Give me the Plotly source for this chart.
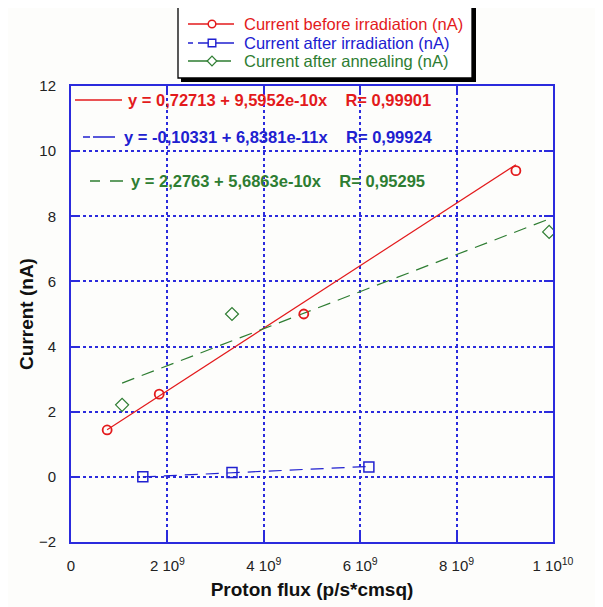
import numpy as np
import plotly.graph_objects as go

# ---- data ----
before_x = [0.75e9, 1.83e9, 4.83e9, 9.23e9]
before_y = [1.44, 2.54, 5.0, 9.40]
after_x = [1.49e9, 3.34e9, 6.18e9]
after_y = [0.0, 0.13, 0.30]
anneal_x = [1.06e9, 3.34e9, 9.92e9]
anneal_y = [2.21, 5.0, 7.52]

# fit coefficients printed on the chart: intercept, slope
fit_before = (0.72713, 9.5952e-10)
fit_after = (-0.10331, 6.8381e-11)
fit_anneal = (2.2763, 5.6863e-10)

eq_before = "y = 0,72713 + 9,5952e-10x    R= 0,99901"
eq_after = "y = -0,10331 + 6,8381e-11x    R= 0,99924"
eq_anneal = "y = 2,2763 + 5,6863e-10x    R= 0,95295"

names = ["Current before irradiation (nA)", "Current after irradiation (nA)",
         "Current after annealing (nA)"]

x_tickvals = [0, 2e9, 4e9, 6e9, 8e9, 1e10]
x_ticktext = ["0", "2 10<sup>9</sup>", "4 10<sup>9</sup>", "6 10<sup>9</sup>",
              "8 10<sup>9</sup>", "1 10<sup>10</sup>"]
y_tickvals = [-2, 0, 2, 4, 6, 8, 10, 12]

RED = "#e31a1c"
BLUE = "#2020d0"
GREEN = "#2e7d32"
AXIS = "#2b2bdd"
FONT = "Liberation Sans, Arial"

# figure pixel geometry (page body has an 8px margin)
OFF = 8
W, H = 595, 599
L, T = 63, 78
pw, ph = 482, 456
R, B = W - L - pw, H - T - ph


def px(sx):
    return (sx - OFF - L) / pw


def py(sy):
    return (H - B - (sy - OFF)) / ph


fig = go.Figure()


def fit_line(xs, coef):
    xx = np.array([min(xs), max(xs)])
    return xx, coef[0] + coef[1] * xx


# fit lines
xx, yy = fit_line(before_x, fit_before)
fig.add_trace(go.Scatter(x=xx, y=yy, mode="lines", line=dict(color=RED, width=1.2),
                         name=names[0] + " fit", showlegend=False, hoverinfo="skip"))
xx, yy = fit_line(after_x, fit_after)
fig.add_trace(go.Scatter(x=xx, y=yy, mode="lines",
                         line=dict(color=BLUE, width=1.2, dash="13px,8px"),
                         name=names[1] + " fit", showlegend=False, hoverinfo="skip"))
xx, yy = fit_line(anneal_x, fit_anneal)
fig.add_trace(go.Scatter(x=xx, y=yy, mode="lines",
                         line=dict(color=GREEN, width=1.2, dash="13px,8px"),
                         name=names[2] + " fit", showlegend=False, hoverinfo="skip"))

# data points
fig.add_trace(go.Scatter(x=before_x, y=before_y, mode="markers", name=names[0],
                         marker=dict(symbol="circle-open", size=9, color=RED,
                                     line=dict(width=1.8, color=RED)),
                         showlegend=False))
fig.add_trace(go.Scatter(x=after_x, y=after_y, mode="markers", name=names[1],
                         marker=dict(symbol="square-open", size=10, color=BLUE,
                                     line=dict(width=1.5, color=BLUE)),
                         showlegend=False))
fig.add_trace(go.Scatter(x=anneal_x, y=anneal_y, mode="markers", name=names[2],
                         marker=dict(symbol="diamond-open", size=10, color=GREEN,
                                     line=dict(width=1.2, color=GREEN)),
                         showlegend=False))

shapes = []
annotations = []

# ---- legend box drawn by hand (shadow, frame, samples, texts) ----
shapes.append(dict(type="rect", xref="paper", yref="paper",
                   x0=px(181), x1=px(476), y0=py(82), y1=py(7),
                   fillcolor="black", line=dict(width=0)))
shapes.append(dict(type="rect", xref="paper", yref="paper",
                   x0=px(178), x1=px(472), y0=py(78), y1=py(4),
                   fillcolor="white", line=dict(color="black", width=1.3)))
leg_rows = [(names[0], RED, 24, "solid", "circle"),
            (names[1], BLUE, 43, "5px,5px,40px", "square"),
            (names[2], GREEN, 61, "22px,7px,14px", "diamond")]
for nm, c, ly, d, sym in leg_rows:
    shapes.append(dict(type="line", xref="paper", yref="paper",
                       x0=px(188), x1=px(234), y0=py(ly), y1=py(ly),
                       line=dict(color=c, width=1.3, dash=d)))
    mx, r = 212, 3.8
    if sym == "circle":
        shapes.append(dict(type="circle", xref="paper", yref="paper",
                           x0=px(mx - r), x1=px(mx + r), y0=py(ly + r), y1=py(ly - r),
                           fillcolor="white", line=dict(color=c, width=1.5)))
    elif sym == "square":
        shapes.append(dict(type="rect", xref="paper", yref="paper",
                           x0=px(mx - r), x1=px(mx + r), y0=py(ly + r), y1=py(ly - r),
                           fillcolor="white", line=dict(color=c, width=1.4)))
    else:
        r = 4.8
        path = (f"M {px(mx - r)},{py(ly)} L {px(mx)},{py(ly - r)} "
                f"L {px(mx + r)},{py(ly)} L {px(mx)},{py(ly + r)} Z")
        shapes.append(dict(type="path", xref="paper", yref="paper", path=path,
                           fillcolor="white", line=dict(color=c, width=1.2)))
    annotations.append(dict(x=px(243), y=py(ly), xref="paper", yref="paper",
                            text=nm, showarrow=False, xanchor="left", yanchor="middle",
                            borderpad=0, font=dict(family=FONT, size=16.5, color=c)))

# ---- equation annotations and their line samples ----
eqs = [(eq_before, RED, 127, 100, 75, 122, "solid"),
       (eq_after, BLUE, 123, 137, 83, 115, "7px,3px,22px,3px"),
       (eq_anneal, GREEN, 130, 181, 90, 123, "10px,10px,13px,10px")]
for txt, c, tx, ty, l0, l1, d in eqs:
    annotations.append(dict(x=px(tx), y=py(ty), xref="paper", yref="paper",
                            text=f"<b>{txt}</b>", showarrow=False, xanchor="left",
                            yanchor="middle", borderpad=0,
                            font=dict(family=FONT, size=16.5, color=c)))
    shapes.append(dict(type="line", xref="paper", yref="paper",
                       x0=px(l0), x1=px(l1), y0=py(ty), y1=py(ty),
                       line=dict(color=c, width=1.3, dash=d)))

axis_common = dict(showline=True, linecolor=AXIS, linewidth=2, mirror="ticks",
                   ticks="inside", tickcolor=AXIS, tickwidth=2, ticklen=9,
                   showgrid=True, gridcolor=AXIS, gridwidth=1.5, griddash="dot",
                   zeroline=False, automargin=False,
                   tickfont=dict(family=FONT, size=15, color="#222"))

fig.update_xaxes(range=[0, 1e10], tickvals=x_tickvals, ticktext=x_ticktext,
                 ticklabelstandoff=9,
                 title=dict(text="<b>Proton flux (p/s*cmsq)</b>", standoff=10,
                            font=dict(family=FONT, size=19, color="#111")),
                 **axis_common)
fig.update_yaxes(range=[-2, 12], tickvals=y_tickvals, ticklabelstandoff=10,
                 title=dict(text="<b>Current (nA)</b>", standoff=0,
                            font=dict(family=FONT, size=19, color="#111")),
                 **axis_common)

fig.update_layout(
    width=W, height=H,
    margin=dict(l=L, r=R, t=T, b=B, autoexpand=False),
    paper_bgcolor="#fdfdfb", plot_bgcolor="#fdfdfb",
    showlegend=False,
    shapes=shapes, annotations=annotations,
)

fig.write_html("out.html")
